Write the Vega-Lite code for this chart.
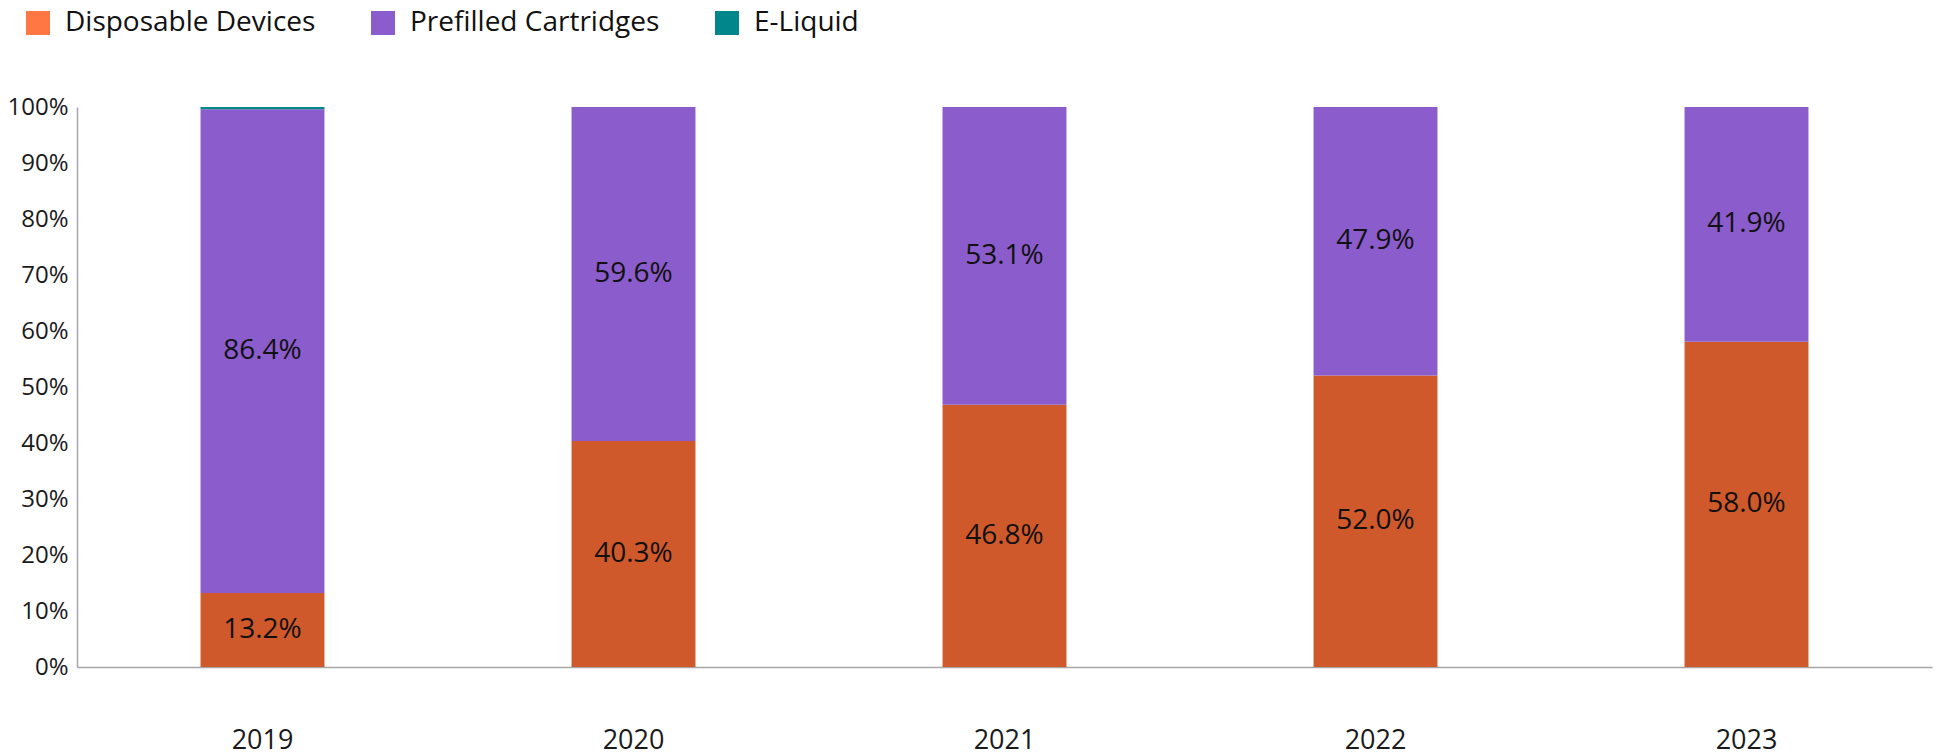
{
  "$schema": "https://vega.github.io/schema/vega-lite/v6.json",
  "width": 1855,
  "height": 560,
  "autosize": {"type": "none"},
  "padding": {"left": 77, "top": 107, "right": 6, "bottom": 89},
  "background": "white",
  "config": {
    "view": {"stroke": null},
    "font": "Open Sans",
    "axis": {"labelFont": "Open Sans", "labelColor": "#1a1a1a", "domainColor": "#a6a6a6", "domainWidth": 1.5, "ticks": false, "grid": false, "title": null},
    "legend": {"labelFont": "Open Sans"}
  },
  "data": {
    "values": [
      {"year": "2019", "Category": "Disposable Devices", "value": 13.2, "label": "13.2%"},
      {"year": "2019", "Category": "Prefilled Cartridges", "value": 86.4, "label": "86.4%"},
      {"year": "2019", "Category": "E-Liquid", "value": 0.4, "label": ""},
      {"year": "2020", "Category": "Disposable Devices", "value": 40.3, "label": "40.3%"},
      {"year": "2020", "Category": "Prefilled Cartridges", "value": 59.6, "label": "59.6%"},
      {"year": "2020", "Category": "E-Liquid", "value": 0, "label": ""},
      {"year": "2021", "Category": "Disposable Devices", "value": 46.8, "label": "46.8%"},
      {"year": "2021", "Category": "Prefilled Cartridges", "value": 53.1, "label": "53.1%"},
      {"year": "2021", "Category": "E-Liquid", "value": 0, "label": ""},
      {"year": "2022", "Category": "Disposable Devices", "value": 52.0, "label": "52.0%"},
      {"year": "2022", "Category": "Prefilled Cartridges", "value": 47.9, "label": "47.9%"},
      {"year": "2022", "Category": "E-Liquid", "value": 0, "label": ""},
      {"year": "2023", "Category": "Disposable Devices", "value": 58.0, "label": "58.0%"},
      {"year": "2023", "Category": "Prefilled Cartridges", "value": 41.9, "label": "41.9%"},
      {"year": "2023", "Category": "E-Liquid", "value": 0, "label": ""}
    ]
  },
  "transform": [
    {"calculate": "indexof(['Disposable Devices','Prefilled Cartridges','E-Liquid'], datum.Category)", "as": "rank"}
  ],
  "encoding": {
    "x": {
      "field": "year", "type": "nominal",
      "scale": {"paddingInner": 0.666, "paddingOuter": 0.333},
      "axis": {"labelAngle": 0, "labelFontSize": 27, "labelPadding": 60}
    },
    "y": {
      "field": "value", "type": "quantitative", "stack": "normalize",
      "scale": {"domain": [0, 1], "nice": false},
      "axis": {"format": ".0%", "values": [0, 0.1, 0.2, 0.3, 0.4, 0.5, 0.6, 0.7, 0.8, 0.9, 1], "labelFontSize": 24, "labelPadding": 9}
    },
    "order": {"field": "rank", "type": "quantitative"}
  },
  "layer": [
    {
      "mark": {"type": "bar"},
      "encoding": {
        "color": {
          "field": "Category", "type": "nominal",
          "scale": {"domain": ["Disposable Devices", "Prefilled Cartridges", "E-Liquid"], "range": ["#cf592b", "#8b5ccb", "#00868b"]},
          "legend": null
        }
      }
    },
    {
      "mark": {"type": "point", "shape": "square", "filled": true, "size": 0, "opacity": 1},
      "encoding": {
        "color": {
          "field": "Category", "type": "nominal",
          "scale": {"domain": ["Disposable Devices", "Prefilled Cartridges", "E-Liquid"], "range": ["#ff7843", "#8b5ccb", "#00868b"]},
          "legend": {
            "title": null, "orient": "none", "direction": "horizontal",
            "legendX": -53, "legendY": -98, "padding": 0,
            "symbolType": "square", "symbolSize": 576, "symbolStrokeWidth": 0, "symbolOpacity": 1,
            "labelFontSize": 28, "labelColor": "#111111", "labelOffset": 13, "columnPadding": 53, "labelLimit": 0
          }
        }
      }
    },
    {
      "mark": {"type": "text", "fontSize": 28, "color": "#111111", "baseline": "middle"},
      "encoding": {
        "y": {"field": "value", "type": "quantitative", "stack": "normalize", "bandPosition": 0.5},
        "text": {"field": "label"}
      }
    }
  ],
  "resolve": {"scale": {"color": "independent"}}
}
